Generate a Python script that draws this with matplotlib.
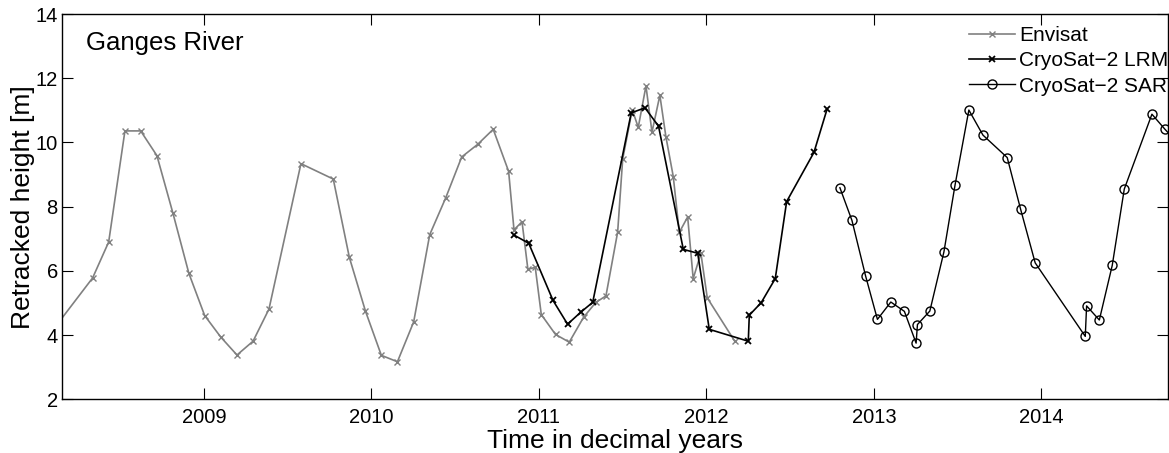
import numpy as np
import matplotlib
matplotlib.use('Agg')
from matplotlib import pyplot as plt

# Envisat (first point lies left of the visible range)
env_t = [2008.06, 2008.335, 2008.431, 2008.528, 2008.622, 2008.719, 2008.815, 2008.910,
         2009.004, 2009.100, 2009.197, 2009.293, 2009.388, 2009.579, 2009.772, 2009.868,
         2009.964, 2010.059, 2010.155, 2010.252, 2010.348, 2010.443, 2010.539, 2010.634,
         2010.727, 2010.819, 2010.851, 2010.899, 2010.934, 2010.978, 2011.014, 2011.099,
         2011.181, 2011.267, 2011.340, 2011.400, 2011.470, 2011.500, 2011.557, 2011.593,
         2011.639, 2011.675, 2011.722, 2011.758, 2011.802, 2011.838, 2011.888, 2011.921,
         2011.967, 2012.005, 2012.168]
env_h = [3.90, 5.78, 6.90, 10.36, 10.36, 9.59, 7.79, 5.92,
         4.61, 3.94, 3.38, 3.81, 4.81, 9.34, 8.86, 6.42,
         4.75, 3.37, 3.17, 4.41, 7.13, 8.27, 9.55, 9.94,
         10.41, 9.10, 7.28, 7.53, 6.05, 6.11, 4.64, 4.02,
         3.78, 4.56, 5.02, 5.22, 7.21, 9.48, 11.02, 10.47,
         11.76, 10.32, 11.47, 10.18, 8.94, 7.20, 7.68, 5.76,
         6.55, 5.16, 3.82]

# CryoSat-2 LRM
lrm_t = [2010.853, 2010.939, 2011.084, 2011.171, 2011.251, 2011.321, 2011.551, 2011.633,
         2011.714, 2011.862, 2011.948, 2012.017, 2012.250, 2012.256, 2012.327, 2012.411,
         2012.479, 2012.642, 2012.721]
lrm_h = [7.11, 6.86, 5.08, 4.34, 4.72, 5.02, 10.92, 11.08,
         10.51, 6.67, 6.55, 4.18, 3.81, 4.62, 5.01, 5.76,
         8.16, 9.69, 11.05]

# CryoSat-2 SAR (last point lies right of the visible range)
sar_t = [2012.797, 2012.869, 2012.950, 2013.021, 2013.101, 2013.182, 2013.252, 2013.260,
         2013.334, 2013.418, 2013.485, 2013.567, 2013.651, 2013.796, 2013.876, 2013.963,
         2014.262, 2014.270, 2014.346, 2014.423, 2014.495, 2014.660, 2014.738, 2014.82]
sar_h = [8.59, 7.57, 5.85, 4.49, 5.03, 4.74, 3.75, 4.33,
         4.75, 6.59, 8.69, 11.01, 10.23, 9.53, 7.92, 6.25,
         3.96, 4.91, 4.47, 6.17, 8.55, 10.88, 10.41, 9.95]

plt.rcParams['font.family'] = 'Liberation Sans'

fig = plt.figure(figsize=(11.69, 4.53), dpi=100)
ax = fig.add_axes([0.053, 0.1185, 0.946, 0.8505])

ax.plot(env_t, env_h, color='#808080', lw=1.2, marker='x', ms=4, mew=1.0, label='Envisat')
ax.plot(lrm_t, lrm_h, color='black', lw=1.2, marker='x', ms=4, mew=1.3, label='CryoSat\u22122 LRM')
ax.plot(sar_t, sar_h, color='black', lw=1.0, marker='o', ms=6.5, mfc='none', mew=1.0,
        label='CryoSat\u22122 SAR')

ax.set_xlim(2008.152, 2014.755)
ax.set_ylim(2, 14)
ax.set_xticks([2009, 2010, 2011, 2012, 2013, 2014])
ax.set_yticks([2, 4, 6, 8, 10, 12, 14])
ax.tick_params(direction='in', length=8, width=0.8, top=True, right=True, labelsize=14.5)
ax.tick_params(axis='x', pad=6)
ax.tick_params(axis='y', pad=3)
for s in ax.spines.values():
    s.set_linewidth(1.0)

ax.set_xlabel('Time in decimal years', fontsize=19, labelpad=2)
ax.set_ylabel('Retracked height [m]', fontsize=19, labelpad=0.5)
ax.text(0.0217, 0.955, 'Ganges River', transform=ax.transAxes, fontsize=18.5, va='top')

ax.legend(loc='upper right', bbox_to_anchor=(1.006, 0.985), frameon=False, fontsize=15,
          handlelength=2.2, handletextpad=0.2, labelspacing=0.3, borderaxespad=0.0,
          borderpad=0.3)

fig.savefig('out.png', dpi=100)
